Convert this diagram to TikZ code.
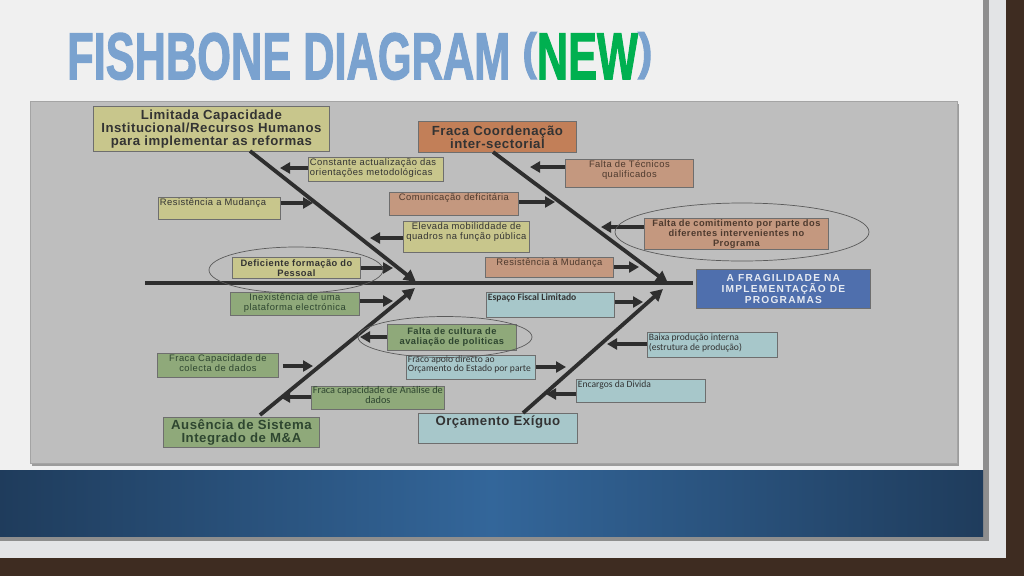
\documentclass[tikz,border=0pt]{standalone}
\usepackage{fontspec}
\usepackage{graphicx}
\setmainfont{Liberation Sans}
\newfontfamily\calfont{Carlito}
\newfontfamily\spacedfont[LetterSpace=5]{Liberation Sans}
\newfontfamily\bigfont[LetterSpace=4]{Liberation Sans}
\newfontfamily\headfont[LetterSpace=12]{Liberation Sans}
\newfontfamily\titlefont[FakeBold=2]{Liberation Sans}
\usetikzlibrary{arrows.meta,shapes.geometric}

\definecolor{woodc}{HTML}{3E2C21}
\definecolor{framec}{HTML}{E3E4E6}
\definecolor{slidec}{HTML}{F0F0F0}
\definecolor{stripc}{HTML}{8E8E8E}
\definecolor{bandd}{HTML}{1F3C5C}
\definecolor{bandm}{HTML}{33669A}
\definecolor{panelc}{HTML}{BEBEBE}
\definecolor{paneledge}{HTML}{A4A4A4}
\definecolor{shadowc}{HTML}{9C9C9C}
\definecolor{khakic}{HTML}{C8C68C}
\definecolor{orangec}{HTML}{C27F58}
\definecolor{brownc}{HTML}{C4987F}
\definecolor{greenc}{HTML}{8FA97A}
\definecolor{cyanc}{HTML}{A7C7CA}
\definecolor{headc}{HTML}{4F6FAD}
\definecolor{boxline}{HTML}{6E6E6E}
\definecolor{arrc}{HTML}{2E2E2E}
\definecolor{ringc}{HTML}{5A5A5A}
\definecolor{txtk}{HTML}{333333}
\definecolor{txtb}{HTML}{4E3A2E}
\definecolor{txtg}{HTML}{2E4630}
\definecolor{txth}{HTML}{E6EAF2}
\definecolor{titleblue}{HTML}{7AA2CF}
\definecolor{titlegreen}{HTML}{00B050}

% box contents: width, height, top padding, text
\newcommand{\bxc}[3]{\parbox[c][#2][c]{#1}{\centering #3\par}}
\newcommand{\bxt}[4]{\parbox[c][#2][t]{#1}{\vspace*{#3}\centering #4\par}}
\newcommand{\bxl}[4]{\parbox[c][#2][t]{#1}{\vspace*{#3}\raggedright\leftskip=1.5pt #4\par}}
\newcommand{\smf}{\spacedfont\fontsize{9.4}{10}\selectfont}
\newcommand{\smb}{\spacedfont\bfseries\fontsize{9.3}{9.8}\selectfont}
\newcommand{\clf}{\calfont\fontsize{9.6}{9.6}\selectfont}
\newcommand{\lgb}{\bigfont\bfseries\fontsize{13.2}{13}\selectfont}
\newcommand{\hdf}{\headfont\bfseries\fontsize{10.2}{11}\selectfont}
\newcommand{\lparen}{\raisebox{0.16em}{\scalebox{1}[0.76]{(}}}
\newcommand{\rparen}{\raisebox{0.16em}{\scalebox{1}[0.76]{)}}}

\tikzset{
  box/.style={draw=boxline, line width=0.8pt, inner sep=0pt, anchor=north west},
  kbox/.style={box, fill=khakic, text=txtk},
  obox/.style={box, fill=orangec, text=txtk},
  bbox/.style={box, fill=brownc, text=txtb},
  gbox/.style={box, fill=greenc, text=txtg},
  cbox/.style={box, fill=cyanc, text=txtk},
  hbox/.style={box, fill=headc, text=txth},
  arr/.style={draw=arrc, line width=3.6pt, -{Triangle[length=10pt,width=11pt]}},
  bone/.style={draw=arrc, line width=3.8pt, -{Triangle[length=12pt,width=12pt]}},
  spine/.style={draw=arrc, line width=4pt},
  ring/.style={draw=ringc, line width=0.7pt, ellipse, inner sep=0pt},
}

\begin{document}
\begin{tikzpicture}[x=1pt,y=-1pt]
\useasboundingbox (0,0) rectangle (1024,576);
% slide background
\fill[woodc] (0,0) rectangle (1024,576);
\fill[framec] (0,0) rectangle (1006,558);
\fill[slidec] (0,0) rectangle (983,470);
\fill[stripc] (983,0) rectangle (989,541);
\fill[stripc] (0,536) rectangle (989,541);
\shade[left color=bandd, right color=bandd, middle color=bandm] (0,470) rectangle (983,536);

% title
\node[anchor=south west, inner sep=0pt] (title) at (67,80)
  {\resizebox{585pt}{47pt}{\titlefont\bfseries\color{titleblue}FISHBONE DIAGRAM \lparen\textcolor{titlegreen}{NEW}\rparen}};

% diagram panel
\fill[shadowc] (32,104) rectangle (959,466);
\filldraw[fill=panelc, draw=paneledge, line width=0.6pt] (30,101) rectangle (957,463);

% main boxes
\node[kbox] (L1) at (93,106) {\bxc{236pt}{45pt}{\lgb Limitada Capacidade\\Institucional/Recursos Humanos\\para implementar as reformas}};
\node[obox] (F1) at (418,121) {\bxc{158pt}{31pt}{\lgb Fraca Coordenação\\inter-sectorial}};
\node[gbox] (AS) at (163,417) {\bxc{156pt}{30pt}{\lgb Ausência de Sistema\\Integrado de M\&A}};
\node[cbox] (OE) at (418,413) {\bxt{159pt}{30pt}{2pt}{\lgb Orçamento Exíguo}};
\node[hbox] (HD) at (696,269) {\bxc{174pt}{39pt}{\hdf A FRAGILIDADE NA\\IMPLEMENTAÇÃO DE\\PROGRAMAS}};

% upper-left causes
\node[kbox] (C1) at (308,157) {\bxl{135pt}{24pt}{1.5pt}{\smf Constante actualização das\\orientações metodológicas}};
\node[kbox] (R1) at (158,197) {\bxl{122pt}{22pt}{1.5pt}{\smf Resistência  a Mudança}};
\node[kbox] (E1) at (403,221) {\bxt{126pt}{31pt}{1.5pt}{\smf Elevada mobiliddade de\\quadros na função pública}};
\node[kbox] (D1) at (232,257) {\bxc{128pt}{21pt}{\smb Deficiente formação do\\Pessoal}};

% upper-right causes
\node[bbox] (T1) at (565,159) {\bxt{128pt}{28pt}{1.5pt}{\smf Falta de Técnicos\\qualificados}};
\node[bbox] (CM) at (389,192) {\bxt{129pt}{23pt}{1.5pt}{\smf Comunicação  deficitária}};
\node[bbox] (FC) at (644,218) {\bxc{184pt}{31pt}{\smb Falta de comitimento  por parte dos\\diferentes intervenientes no\\Programa}};
\node[bbox] (RM) at (485,257) {\bxt{128pt}{20pt}{1pt}{\smf Resistência  à Mudança}};

% lower-right causes
\node[cbox] (EF) at (486,292) {\bxl{128pt}{25pt}{1.5pt}{\clf\bfseries Espaço Fiscal Limitado}};
\node[cbox] (BP) at (647,332) {\bxl{130pt}{25pt}{1.5pt}{\clf Baixa produção interna\\(estrutura  de produção)}};
\node[cbox] (FA) at (406,355) {\bxl{129pt}{24pt}{0pt}{\clf Fraco apoio directo ao\\Orçamento do Estado por parte}};
\node[cbox] (ED) at (576,379) {\bxl{129pt}{23pt}{1.5pt}{\clf Encargos da Divida}};

% lower-left causes
\node[gbox] (IN) at (230,292) {\bxt{129pt}{23pt}{1pt}{\smf Inexistência  de uma\\plataforma electrónica}};
\node[gbox] (FCu) at (387,324) {\bxc{129pt}{26pt}{\smb Falta de cultura de\\avaliação  de politicas}};
\node[gbox] (FCD) at (157,353) {\bxt{121pt}{24pt}{1.5pt}{\smf Fraca Capacidade de\\colecta de dados}};
\node[gbox] (FAn) at (311,386) {\bxt{133pt}{23pt}{0pt}{\calfont\fontsize{10.3}{10.2}\selectfont Fraca capacidade de Análise de\\dados}};

% spine and bone coordinates
\coordinate (spL) at (145,283);
\coordinate (spR) at (693,283);
\coordinate (ulS) at (250,151);
\coordinate (ulT) at (416,282);
\coordinate (urS) at (493,152);
\coordinate (urT) at (668,283);
\coordinate (llS) at (260,415);
\coordinate (llT) at (415,288);
\coordinate (lrS) at (523,413);
\coordinate (lrT) at (663,289);

\draw[spine] (spL) -- (spR);
\draw[bone] (ulS) -- (ulT);
\draw[bone] (urS) -- (urT);
\draw[bone] (llS) -- (llT);
\draw[bone] (lrS) -- (lrT);

% arrow tips
\coordinate (tC1) at (280,168);
\coordinate (tR1) at (313,203);
\coordinate (tE1) at (370,238);
\coordinate (tD1) at (393,268);
\coordinate (tT1) at (530,167);
\coordinate (tCM) at (555,202);
\coordinate (tFC) at (601,227);
\coordinate (tRM) at (639,267);
\coordinate (tEF) at (643,302);
\coordinate (tBP) at (607,344);
\coordinate (tFA) at (566,367);
\coordinate (tED) at (546,394);
\coordinate (tIN) at (393,301);
\coordinate (tFCu) at (360,337);
\coordinate (tFCD) at (313,366);
\coordinate (tFAn) at (280,397);

\draw[arr] (C1.west |- tC1) -- (tC1);
\draw[arr] (R1.east |- tR1) -- (tR1);
\draw[arr] (E1.west |- tE1) -- (tE1);
\draw[arr] (D1.east |- tD1) -- (tD1);
\draw[arr] (T1.west |- tT1) -- (tT1);
\draw[arr] (CM.east |- tCM) -- (tCM);
\draw[arr] (FC.west |- tFC) -- (tFC);
\draw[arr] (RM.east |- tRM) -- (tRM);
\draw[arr] (EF.east |- tEF) -- (tEF);
\draw[arr] (BP.west |- tBP) -- (tBP);
\draw[arr] (FA.east |- tFA) -- (tFA);
\draw[arr] (ED.west |- tED) -- (tED);
\draw[arr] (IN.east |- tIN) -- (tIN);
\draw[arr] (FCu.west |- tFCu) -- (tFCu);
\draw[arr, shorten <=4pt] (FCD.east |- tFCD) -- (tFCD);
\draw[arr] (FAn.west |- tFAn) -- (tFAn);

% highlight ellipses
\node[ring, minimum width=174pt, minimum height=46pt] (eD1) at (296,270) {};
\node[ring, minimum width=254pt, minimum height=58pt] (eFC) at (742,232) {};
\node[ring, minimum width=174pt, minimum height=41pt] (eFCu) at (445,337) {};
\end{tikzpicture}
\end{document}
